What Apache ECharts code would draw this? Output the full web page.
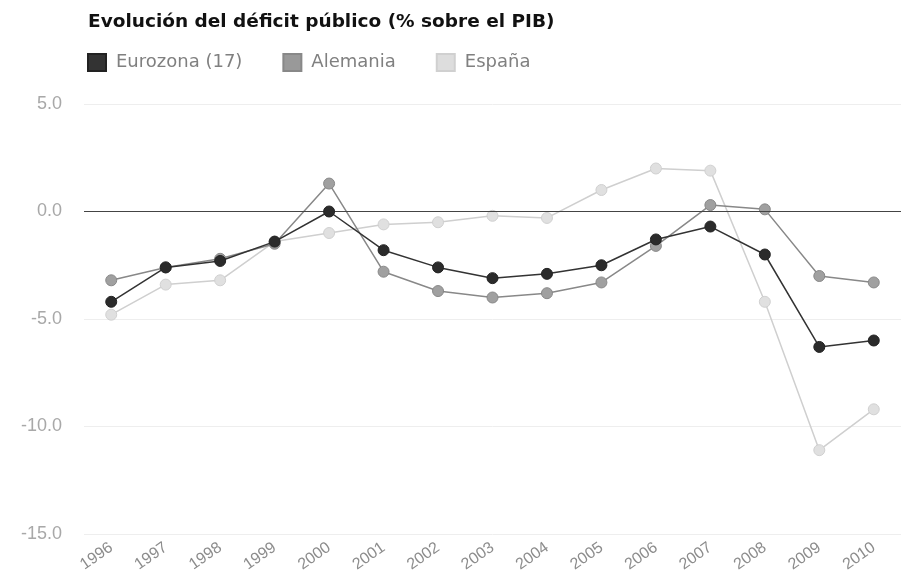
<!DOCTYPE html>
<html><head><meta charset="utf-8">
<script src="https://cdn.jsdelivr.net/npm/echarts@6/dist/echarts.min.js"></script>
<style>html,body{margin:0;padding:0;background:#fff}#c{width:906px;height:588px}</style>
</head><body><div id="c"></div>
<script>
const years = ['1996','1997','1998','1999','2000','2001','2002','2003','2004','2005','2006','2007','2008','2009','2010'];
const eurozona = [-4.2,-2.6,-2.3,-1.4,0.0,-1.8,-2.6,-3.1,-2.9,-2.5,-1.3,-0.7,-2.0,-6.3,-6.0];
const alemania = [-3.2,-2.6,-2.2,-1.5,1.3,-2.8,-3.7,-4.0,-3.8,-3.3,-1.6,0.3,0.1,-3.0,-3.3];
const espana = [-4.8,-3.4,-3.2,-1.4,-1.0,-0.6,-0.5,-0.2,-0.3,1.0,2.0,1.9,-4.2,-11.1,-9.2];
const yTicks = [-15, 5, 5];

const chart = echarts.init(document.getElementById('c'));
function s(name, data, line, mark, border) {
  return {
    name, type: 'line', data, symbol: 'circle', symbolSize: 11, showSymbol: true,
    lineStyle: { color: line, width: 1.5 },
    itemStyle: { color: mark, borderColor: border, borderWidth: 1 },
    emphasis: { disabled: true }, animation: false
  };
}
chart.setOption({
  animation: false,
  title: { text: 'Evolución del déficit público (% sobre el PIB)', left: 83, top: 8,
    textStyle: { fontFamily: 'DejaVu Sans', fontWeight: 'bold', fontSize: 18.5, color: '#111' } },
  legend: { left: 82, top: 48, itemWidth: 18, itemHeight: 17, itemGap: 40, icon: 'rect',
    textStyle: { fontFamily: 'DejaVu Sans', fontSize: 18, color: '#808080', padding: [0, 0, 0, 5] },
    data: [
      { name: 'Eurozona (17)', itemStyle: { color: '#333' } },
      { name: 'Alemania', itemStyle: { color: '#999' } },
      { name: 'España', itemStyle: { color: '#ddd' } }
    ] },
  grid: { left: 84, right: 5, top: 104, bottom: 54, containLabel: false },
  xAxis: { type: 'category', data: years, boundaryGap: true,
    axisLine: { show: false }, axisTick: { show: false },
    axisLabel: { rotate: 35, margin: 12, fontFamily: 'Liberation Sans', fontSize: 16, color: '#8c8c8c', interval: 0 } },
  yAxis: { type: 'value', min: yTicks[0], max: yTicks[1], interval: yTicks[2],
    axisLine: { show: false }, axisTick: { show: false },
    axisLabel: { margin: 22, fontFamily: 'Liberation Sans', fontSize: 18, color: '#a8a8a8', formatter: v => v.toFixed(1) },
    splitLine: { lineStyle: { color: '#eee', width: 1 } } },
  series: [
    Object.assign(s('Eurozona (17)', eurozona, '#333', '#2b2b2b', '#222'), {
      markLine: { silent: true, symbol: 'none', label: { show: false },
        lineStyle: { color: '#444', width: 1.2, type: 'solid' }, data: [{ yAxis: 0 }] }, z: 5 }),
    Object.assign(s('Alemania', alemania, '#888', '#a0a0a0', '#888'), { z: 4 }),
    Object.assign(s('España', espana, '#cfcfcf', '#e0e0e0', '#d0d0d0'), { z: 3 })
  ]
});
</script></body></html>
